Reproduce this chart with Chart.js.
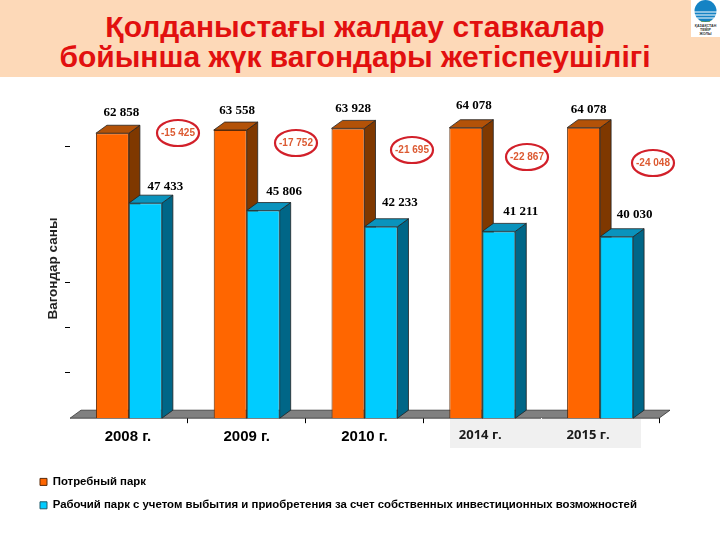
<!DOCTYPE html>
<html lang="kk">
<head>
    <meta charset="UTF-8">
    <title>Қолданыстағы жалдау ставкалар</title>
    <script src="https://cdn.jsdelivr.net/npm/chart.js"></script>
    <style>
        html, body { margin: 0; padding: 0; background: #fff; }
        #header { position: absolute; left: 0; top: 0; width: 720px; height: 77px; background: #fdd9b8; }
        #header h1 {
            margin: 0; position: absolute; left: 0; top: 12px; width: 710px; text-align: center;
            font: bold 30px/30px "Liberation Sans", Arial, sans-serif; color: #e2100f;
        }
        #logo { position: absolute; left: 691px; top: 0; }
        #wrap { position: absolute; left: 0; top: 0; width: 720px; height: 540px; }
    </style>
</head>
<body>
    <div id="header">
        <h1>Қолданыстағы жалдау ставкалар<br>бойынша жүк вагондары жетіспеушілігі</h1>
        <svg id="logo" width="29" height="37" viewBox="0 0 29 37">
            <rect width="29" height="37" fill="#fff"/>
            <circle cx="14.5" cy="11" r="11" fill="#1583c4"/>
            <path d="M3 12h23M4 15h21M6 18h17" stroke="#fff" stroke-width="1.2"/>
            <path d="M8 20q6.500 3 13 0l-3 2h-7z" fill="#5a8f3c"/>
            <text x="14.500" y="27" font-size="3.600" font-weight="bold" text-anchor="middle" fill="#333" font-family="Liberation Sans">ҚАЗАҚСТАН</text>
            <text x="14.500" y="31" font-size="3.600" font-weight="bold" text-anchor="middle" fill="#333" font-family="Liberation Sans">ТЕМІР</text>
            <text x="14.500" y="35" font-size="3.600" font-weight="bold" text-anchor="middle" fill="#333" font-family="Liberation Sans">ЖОЛЫ</text>
        </svg>
    </div>
    <div id="wrap"><canvas id="chart" width="720" height="540"></canvas></div>

    <script>
        const years = ["2008 г.", "2009 г.", "2010 г.", "2014 г.", "2015 г."];
        const required = [62858, 63558, 63928, 64078, 64078];
        const working = [47433, 45806, 42233, 41211, 40030];
        const gaps = ["-15 425", "-17 752", "-21 695", "-22 867", "-24 048"];
        const yTicks = [10000, 20000, 30000, 60000];
        const seriesNames = ["Потребный парк", "Рабочий парк с учетом выбытия и приобретения за счет собственных инвестиционных возможностей"];

        // hand placed bits of the slide, pixel offsets
        const requiredNudge = [[9, -21], [7, -19], [5, -20], [8, -22], [5, -18]];
        const workingNudge = [[20, -17], [21, -19], [19, -24], [22, -20], [18, -22]];
        const ovalSpots = [[178, 133], [296, 143], [412, 150], [527, 157], [653, 163]];
        const yearShift = [-1, 0, 0, -2, -12];
        const depthX = 11, depthY = 8;

        function fmt(v) {
            return String(v).replace(/\B(?=(\d{3})+$)/g, " ");
        }

        function poly(ctx, pts, fill, stroke) {
            ctx.beginPath();
            pts.forEach((p, i) => i ? ctx.lineTo(p[0], p[1]) : ctx.moveTo(p[0], p[1]));
            ctx.closePath();
            ctx.fillStyle = fill;
            ctx.fill();
            if (stroke) {
                ctx.strokeStyle = stroke;
                ctx.lineWidth = 0.8;
                ctx.stroke();
            }
        }

        const slide3d = {
            id: "slide3d",
            beforeDatasetsDraw(chart) {
                const ctx = chart.ctx;
                const a = chart.chartArea;
                // grey floor
                poly(ctx, [[a.left, a.bottom], [a.left + depthX, a.bottom - depthY], [a.right + depthX, a.bottom - depthY], [a.right, a.bottom]], "#808080", "#333");
                const faces = [["#b35208", "#7f3800"], ["#0a93bd", "#006687"]];
                chart.data.datasets.forEach((ds, d) => {
                    chart.getDatasetMeta(d).data.forEach((bar) => {
                        const l = bar.x - bar.width / 2, r = bar.x + bar.width / 2;
                        poly(ctx, [[r, bar.y], [r + depthX, bar.y - depthY], [r + depthX, bar.base - depthY], [r, bar.base]], faces[d][1], "#222");
                        poly(ctx, [[l, bar.y], [l + depthX, bar.y - depthY], [r + depthX, bar.y - depthY], [r, bar.y]], faces[d][0], "#222");
                    });
                });
            },
            afterDraw(chart) {
                const ctx = chart.ctx;
                const x = chart.scales.x;
                ctx.save();
                ctx.textAlign = "center";
                ctx.textBaseline = "middle";

                // value labels above the bars
                ctx.font = 'bold 13px "Liberation Serif", serif';
                ctx.fillStyle = "#000";
                [[required, requiredNudge], [working, workingNudge]].forEach(([vals, nudge], d) => {
                    chart.getDatasetMeta(d).data.forEach((bar, i) => {
                        ctx.fillText(fmt(vals[i]), bar.x + nudge[i][0], bar.y + nudge[i][1]);
                    });
                });

                // red ovals with the shortfall
                gaps.forEach((g, i) => {
                    const [cx, cy] = ovalSpots[i];
                    ctx.beginPath();
                    ctx.ellipse(cx, cy, 21, 13, 0, 0, Math.PI * 2);
                    ctx.strokeStyle = "#d2202a";
                    ctx.lineWidth = 2.2;
                    ctx.stroke();
                    ctx.font = 'bold 10px "Liberation Sans", Arial, sans-serif';
                    ctx.fillStyle = "#dc5a32";
                    ctx.fillText(g, cx, cy);
                });

                // year labels, the last two were pasted over a grey box on the slide
                ctx.fillStyle = "#f0f0f0";
                ctx.fillRect(450, 419, 191, 29);
                ctx.clearRect(541, 418, 1, 1);
                years.forEach((y, i) => {
                    const px = x.getPixelForTick(i) + yearShift[i];
                    if (i < 3) {
                        ctx.font = 'bold 15px "Liberation Sans", Arial, sans-serif';
                        ctx.fillStyle = "#000";
                        ctx.fillText(y, px, 437);
                    } else {
                        ctx.font = 'bold 13px "Open Sans", sans-serif';
                        ctx.fillStyle = "#1a1a1a";
                        ctx.fillText(y, px, 435);
                    }
                });
                ctx.restore();
            }
        };

        new Chart(document.getElementById("chart"), {
            type: "bar",
            data: {
                labels: years,
                datasets: [
                    { label: seriesNames[0], data: required, backgroundColor: "#ff6600", borderColor: "#5a2a08", borderWidth: 1 },
                    { label: seriesNames[1], data: working, backgroundColor: "#00ccff", borderColor: "#1f5a6a", borderWidth: 1 }
                ]
            },
            options: {
                responsive: false,
                animation: false,
                layout: { padding: { left: 28, top: 119, right: 61, bottom: 19 } },
                datasets: { bar: { categoryPercentage: 0.56, barPercentage: 1 } },
                plugins: {
                    tooltip: { enabled: false },
                    legend: {
                        position: "bottom",
                        align: "start",
                        onClick: null,
                        labels: {
                            boxWidth: 7,
                            boxHeight: 7,
                            padding: 12,
                            color: "#000",
                            font: { family: '"Liberation Sans", Arial, sans-serif', size: 11.4, weight: "bold" }
                        }
                    }
                },
                scales: {
                    x: {
                        afterFit(s) { s.height = 46; },
                        border: { display: false },
                        grid: {
                            offset: true,
                            drawOnChartArea: false,
                            tickLength: 5,
                            tickColor: (c) => (c.index === 0 ? "rgba(0,0,0,0)" : "#000")
                        },
                        ticks: { display: false }
                    },
                    y: {
                        min: 0,
                        max: 66000,
                        afterFit(s) { s.width = 42; },
                        afterBuildTicks(s) { s.ticks = yTicks.map((v) => ({ value: v })); },
                        border: { display: false },
                        grid: { drawOnChartArea: false, tickLength: 5, tickColor: "#000" },
                        ticks: { callback: () => "" },
                        title: {
                            display: true,
                            text: "Вагондар саны",
                            color: "#222",
                            padding: { top: 17, bottom: 0 },
                            font: { family: '"Liberation Sans", Arial, sans-serif', size: 13.5, weight: "bold" }
                        }
                    }
                }
            },
            plugins: [slide3d]
        });
    </script>
</body>
</html>
